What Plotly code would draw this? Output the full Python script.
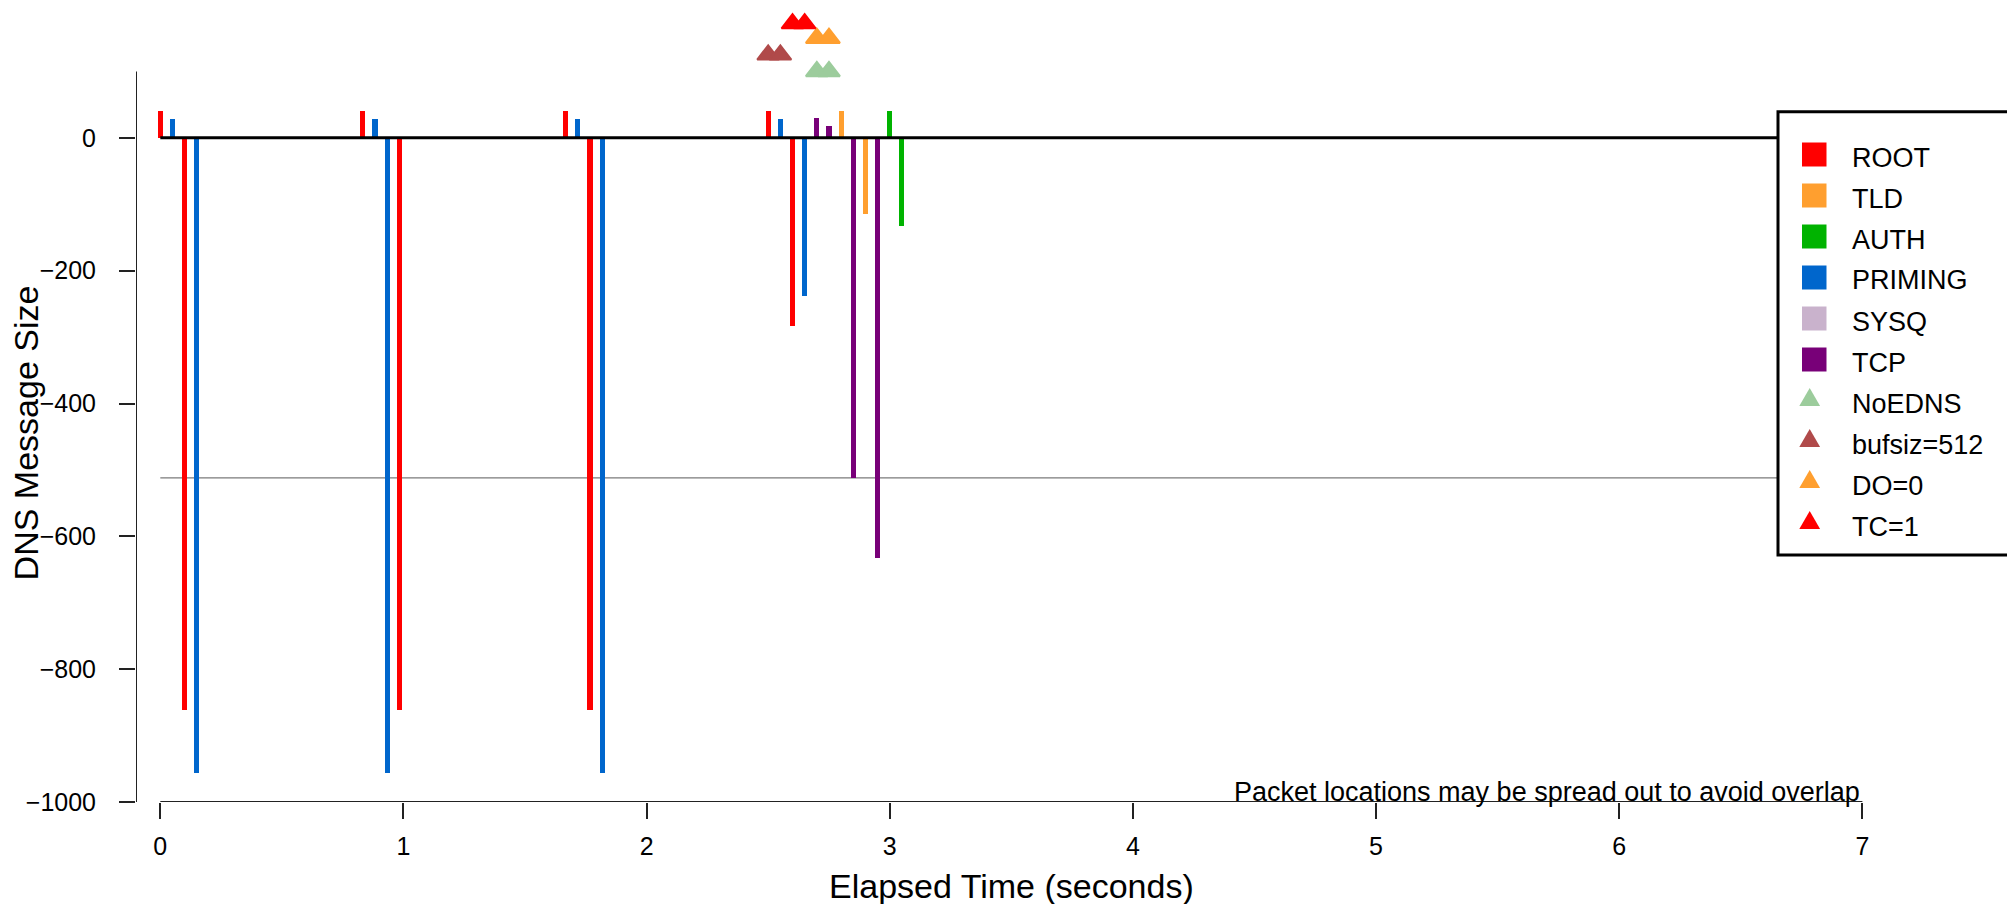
import plotly.graph_objects as go

# ---------------- data ----------------
root_t = [0.0, 0.1, 0.833, 0.983, 1.667, 1.767, 2.5, 2.6]
root_v = [40, -862, 40, -862, 40, -862, 40, -284]
priming_t = [0.05, 0.15, 0.883, 0.933, 1.717, 1.817, 2.55, 2.65]
priming_v = [28, -957, 28, -957, 28, -957, 28, -238]
tcp_t = [2.7, 2.75, 2.85, 2.95]
tcp_v = [30, 18, -512, -632]
tld_t = [2.8, 2.9]
tld_v = [40, -114]
auth_t = [3.0, 3.05]
auth_v = [40, -132]
sysq_t = []
sysq_v = []

noedns_t = [2.7, 2.75]
noedns_v = [100, 100]
bufsiz_t = [2.5, 2.55]
bufsiz_v = [125, 125]
do0_t = [2.7, 2.75]
do0_v = [150, 150]
tc1_t = [2.6, 2.65]
tc1_v = [172, 172]

limit_512 = -512
x_ticks = [0, 1, 2, 3, 4, 5, 6, 7]
y_ticks = [0, -200, -400, -600, -800, -1000]

bar_series = [
    ("ROOT", root_t, root_v, "#FF0000"),
    ("TLD", tld_t, tld_v, "#FF9F2F"),
    ("AUTH", auth_t, auth_v, "#00B300"),
    ("PRIMING", priming_t, priming_v, "#0066CC"),
    ("SYSQ", sysq_t, sysq_v, "#C9B2CC"),
    ("TCP", tcp_t, tcp_v, "#780078"),
]
tri_series = [
    ("NoEDNS", noedns_t, noedns_v, "#9CCC9C"),
    ("bufsiz=512", bufsiz_t, bufsiz_v, "#B04A4A"),
    ("DO=0", do0_t, do0_v, "#FF9F2F"),
    ("TC=1", tc1_t, tc1_v, "#FF0000"),
]

# ---------------- layout geometry ----------------
W, H = 2007, 904
ML, MR, MT, MB = 136, 96, 5, 102
XR = [-0.1, 7.2]
YR = [-1000, 200]
PW = W - ML - MR
PH = H - MT - MB


def px(xp):
    return (xp - ML) / PW


def py(yp):
    return (H - MB - yp) / PH


FONT = "Liberation Sans, Arial, Helvetica, sans-serif"

fig = go.Figure()

for name, t, v, c in bar_series:
    fig.add_trace(go.Bar(x=t, y=v, width=0.021, name=name,
                         marker=dict(color=c, line=dict(width=0)),
                         showlegend=False))

for name, t, v, c in tri_series:
    fig.add_trace(go.Scatter(x=t, y=v, mode="markers", name=name,
                             marker=dict(symbol="triangle-up", size=19, color=c,
                                         line=dict(width=2, color=c)),
                             cliponaxis=False, showlegend=False))

shapes = []
# reference lines
shapes.append(dict(type="line", xref="x", yref="y", x0=0, x1=7, y0=limit_512, y1=limit_512,
                   line=dict(color="#7a7a7a", width=1.2), layer="below"))
shapes.append(dict(type="line", xref="x", yref="y", x0=0, x1=7, y0=0, y1=0,
                   line=dict(color="black", width=3), layer="above"))
# axis lines (R style, detached)
shapes.append(dict(type="line", xref="x", yref="y", x0=0, x1=7, y0=-1000, y1=-1000,
                   line=dict(color="#222", width=2), layer="above"))
shapes.append(dict(type="line", xref="x", yref="y", x0=XR[0], x1=XR[0], y0=-1000, y1=100,
                   line=dict(color="#222", width=2), layer="above"))

# legend box
LB_L, LB_T, LB_B = 1778, 111.7, 555
shapes.append(dict(type="rect", xref="paper", yref="paper",
                   x0=px(LB_L), x1=px(W + 20), y0=py(LB_B), y1=py(LB_T),
                   fillcolor="white", line=dict(color="black", width=3), layer="above"))

annotations = []
ROW0, ROWSTEP = 154.5, 41.0
legend_items = [(n, c, "sq") for n, _, _, c in bar_series] + [(n, c, "tri") for n, _, _, c in tri_series]
for i, (name, c, kind) in enumerate(legend_items):
    yc = ROW0 + ROWSTEP * i
    if kind == "sq":
        shapes.append(dict(type="rect", xref="paper", yref="paper",
                           x0=px(1802), x1=px(1826.5), y0=py(yc + 12), y1=py(yc - 12),
                           fillcolor=c, line=dict(width=0), layer="above"))
    else:
        cx, cy = 1809.7, yc - 3.5
        hw, hh = 10.4, 9.0
        path = "M {:.5f},{:.5f} L {:.5f},{:.5f} L {:.5f},{:.5f} Z".format(
            px(cx - hw), py(cy + hh), px(cx + hw), py(cy + hh), px(cx), py(cy - hh))
        shapes.append(dict(type="path", xref="paper", yref="paper", path=path,
                           fillcolor=c, line=dict(width=0), layer="above"))
    annotations.append(dict(xref="paper", yref="paper", x=px(1850), y=py(yc),
                            xanchor="left", yanchor="middle", yshift=-3, text=name, showarrow=False,
                            font=dict(family=FONT, size=27, color="black")))

# titles and note
annotations.append(dict(xref="x", yref="paper", x=3.5, y=py(886), xanchor="center", yanchor="middle",
                        text="Elapsed Time (seconds)", showarrow=False,
                        font=dict(family=FONT, size=34, color="black")))
annotations.append(dict(xref="paper", yref="y", x=px(26), y=-445, xanchor="center", yanchor="middle",
                        text="DNS Message Size", textangle=-90, showarrow=False,
                        font=dict(family=FONT, size=34, color="black")))
annotations.append(dict(xref="x", yref="y", x=7, y=-1000, xanchor="right", yanchor="bottom",
                        yshift=-7, text="Packet locations may be spread out to avoid overlap",
                        showarrow=False, font=dict(family=FONT, size=27, color="black")))

fig.update_layout(
    width=W, height=H,
    margin=dict(l=ML, r=MR, t=MT, b=MB, autoexpand=False),
    paper_bgcolor="white", plot_bgcolor="white",
    barmode="overlay", bargap=0,
    showlegend=False,
    shapes=shapes, annotations=annotations,
    font=dict(family=FONT, color="black"),
    xaxis=dict(range=XR, showgrid=False, zeroline=False, showline=False,
               tickmode="array", tickvals=x_ticks, ticktext=[str(v) for v in x_ticks],
               ticks="outside", ticklen=16, tickwidth=2, tickcolor="#222",
               tickfont=dict(family=FONT, size=25, color="black"), ticklabelstandoff=6),
    yaxis=dict(range=YR, showgrid=False, zeroline=False, showline=False,
               tickmode="array", tickvals=y_ticks,
               ticktext=[str(v).replace("-", "\u2212") for v in y_ticks],
               ticks="outside", ticklen=16, tickwidth=2, tickcolor="#222",
               tickfont=dict(family=FONT, size=25, color="black"), ticklabelstandoff=18),
)

fig.write_html("out.html", config={"displayModeBar": False})
